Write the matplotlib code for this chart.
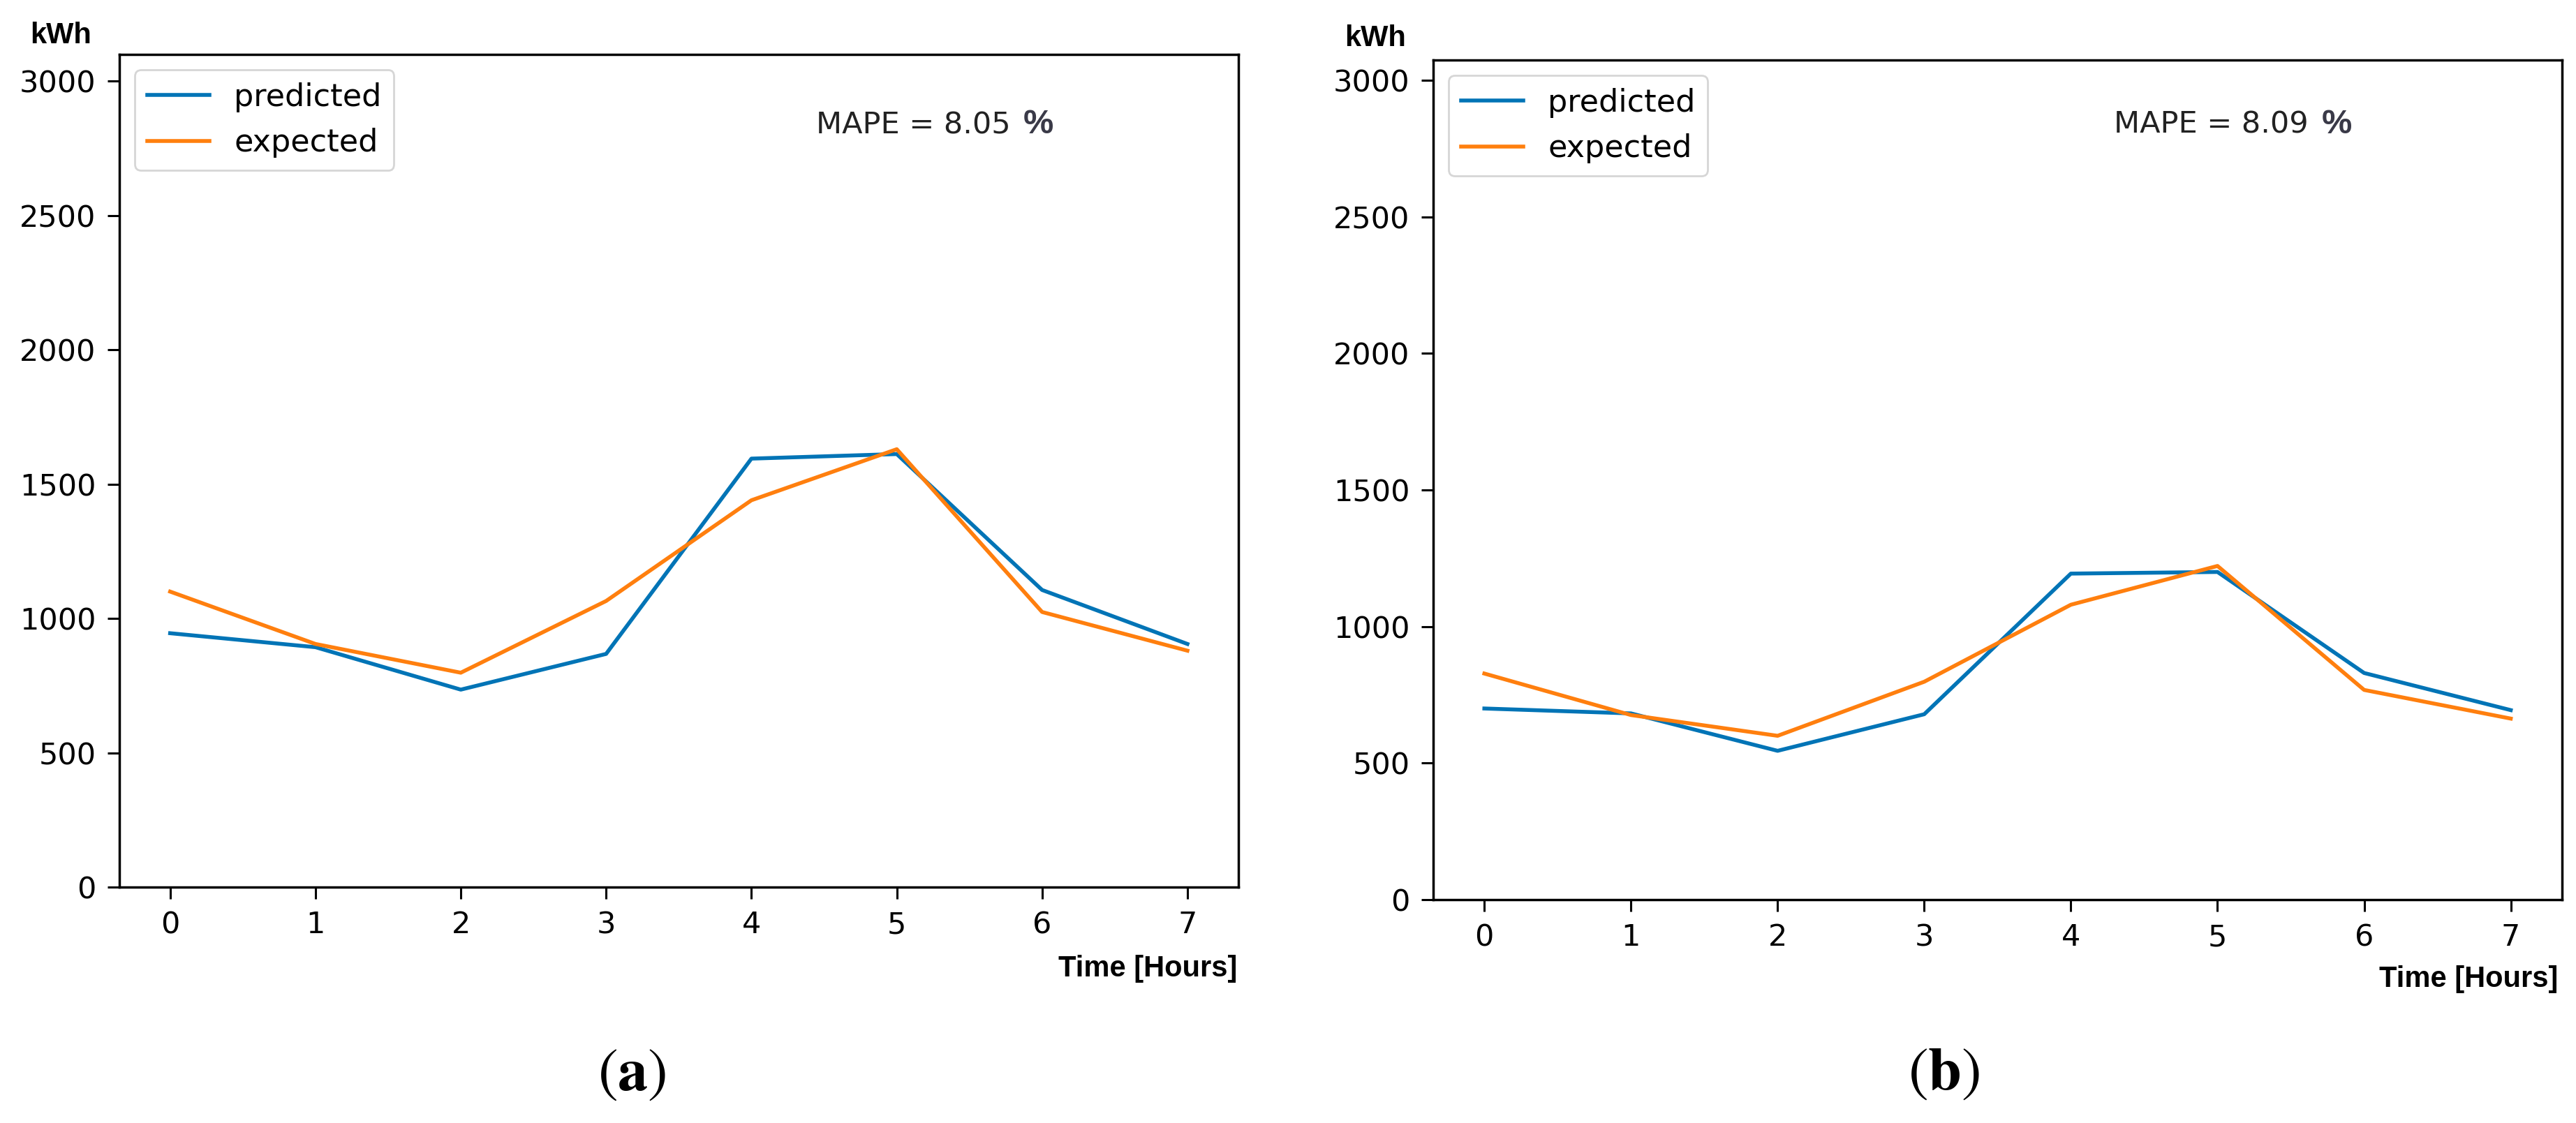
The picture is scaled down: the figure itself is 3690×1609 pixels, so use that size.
import matplotlib.pyplot as plt

hours = [0, 1, 2, 3, 4, 5, 6, 7]

# panel (a)
pred_a = [945, 893, 735, 868, 1595, 1612, 1106, 905]
exp_a = [1100, 905, 798, 1065, 1440, 1630, 1024, 880]
mape_a = "MAPE = 8.05"

# panel (b)
pred_b = [700, 682, 545, 679, 1194, 1200, 830, 694]
exp_b = [828, 676, 600, 798, 1080, 1222, 768, 663]
mape_b = "MAPE = 8.09"

blue = "#0174b6"
orange = "#ff7f0e"

plt.rcParams["font.size"] = 31

fig = plt.figure(figsize=(36.9, 16.09), dpi=100)
ax_a = fig.add_axes([0.0463, 0.2101, 0.4344, 0.7415])
ax_b = fig.add_axes([0.5563, 0.1989, 0.4383, 0.7477])


def draw(ax, pred, exp, mape, ymax, mape_x, pct_x, mape_y):
    ax.plot(hours, pred, color=blue, lw=4, label="predicted")
    ax.plot(hours, exp, color=orange, lw=4, label="expected")
    ax.set_ylim(0, ymax)
    ax.set_xticks(hours)
    ax.set_yticks([0, 500, 1000, 1500, 2000, 2500, 3000])
    ax.tick_params(length=12, width=2.2, pad=12, labelsize=31)
    for s in ax.spines.values():
        s.set_linewidth(2.5)
    leg = ax.legend(loc="upper left", fontsize=32, handlelength=2.0)
    leg.get_frame().set_linewidth(2)
    ax.text(mape_x, mape_y, mape, transform=ax.transAxes, fontsize=31,
            color="#222222", va="baseline")
    ax.text(pct_x, mape_y, "%", transform=ax.transAxes, fontsize=35,
            family="Liberation Sans", weight="bold", color="#3a3a48",
            va="baseline")


draw(ax_a, pred_a, exp_a, mape_a, 3100, 0.623, 0.808, 0.905)
draw(ax_b, pred_b, exp_b, mape_b, 3075, 0.603, 0.787, 0.9127)

lab = dict(family="Liberation Sans", weight="bold", fontsize=30)
fig.text(0.0236, 0.968, "kWh", ha="center", va="center", **lab)
fig.text(0.534, 0.966, "kWh", ha="center", va="center", **lab)
fig.text(0.4802, 0.1305, "Time [Hours]", ha="right", va="baseline", **lab)
fig.text(0.9930, 0.1212, "Time [Hours]", ha="right", va="baseline", **lab)

plt.rcParams["mathtext.fontset"] = "stix"
fig.text(905 / 3690, 1 - 1538 / 1609, r"$(\mathbf{a})$", ha="center",
         va="center", fontsize=62)
fig.text(2785 / 3690, 1 - 1537 / 1609, r"$(\mathbf{b})$", ha="center",
         va="center", fontsize=62)

fig.savefig("out.png", dpi=100)
